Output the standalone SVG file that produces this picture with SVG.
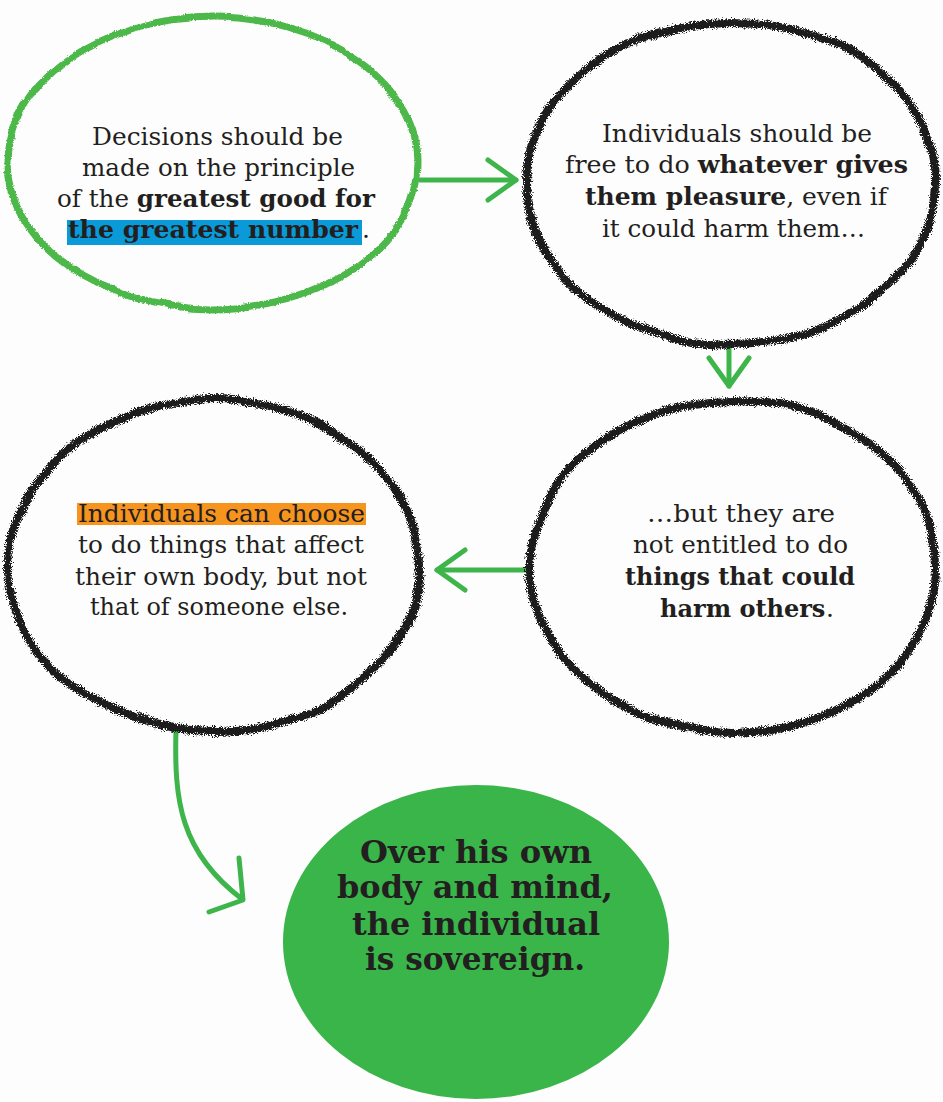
<svg xmlns="http://www.w3.org/2000/svg" width="943" height="1102" viewBox="0 0 943 1102">
<style>
.bg{fill:#fdfdfd}
.reg{font-family:"DejaVu Serif","Liberation Serif",serif;font-size:25px;fill:#231f20}
.b{font-weight:bold}
.big{font-family:"DejaVu Serif","Liberation Serif",serif;font-size:32px;font-weight:bold;fill:#231f20}
.crayon{fill:none;stroke:#1e1e1e;stroke-width:8}
.green-ring{fill:none;stroke:#4cb848;stroke-width:7}
.conn{fill:none;stroke:#3eb54a;stroke-width:5;stroke-linecap:round;stroke-linejoin:round}
</style>
<defs>
<filter id="rough" x="-10%" y="-10%" width="120%" height="120%">
<feTurbulence type="fractalNoise" baseFrequency="0.012" numOctaves="2" seed="4" result="w"/>
<feDisplacementMap in="SourceGraphic" in2="w" scale="8" xChannelSelector="R" yChannelSelector="G" result="d1"/>
<feTurbulence type="fractalNoise" baseFrequency="1.1" numOctaves="2" seed="7" result="n"/>
<feDisplacementMap in="d1" in2="n" scale="8" xChannelSelector="R" yChannelSelector="G"/>
</filter>
<filter id="soft" x="-10%" y="-10%" width="120%" height="120%">
<feTurbulence type="fractalNoise" baseFrequency="0.012" numOctaves="2" seed="9" result="w"/>
<feDisplacementMap in="SourceGraphic" in2="w" scale="8" xChannelSelector="R" yChannelSelector="G" result="d1"/>
<feTurbulence type="fractalNoise" baseFrequency="0.6" numOctaves="1" seed="2" result="n"/>
<feDisplacementMap in="d1" in2="n" scale="3" xChannelSelector="R" yChannelSelector="G"/>
</filter>
<marker id="head" markerUnits="userSpaceOnUse" markerWidth="44" markerHeight="50" viewBox="0 0 44 50" refX="38" refY="25" orient="auto">
<path d="M10,5 L38,25 L10,45" fill="none" stroke="#3eb54a" stroke-width="5" stroke-linecap="round" stroke-linejoin="round"/>
</marker>
</defs>
<rect class="bg" x="0" y="0" width="943" height="1102"/>

<g id="connectors">
<path class="conn" d="M420,180 L516,180" marker-end="url(#head)"/>
<path class="conn" d="M729,345 L729,386" marker-end="url(#head)"/>
<path class="conn" d="M528,570 L437,570" marker-end="url(#head)"/>
<path class="conn" d="M176,730 C174,800 180,852 242,899"/>
<path class="conn" d="M239,858 L243,900 L209,912"/>
</g>

<g id="node-greatest-good">
<ellipse class="green-ring" cx="213" cy="163" rx="205" ry="146" filter="url(#soft)"/>
<rect x="67" y="220" width="295" height="25" fill="#0a9ad7"/>
<text class="reg" x="92" y="145" textLength="251" lengthAdjust="spacingAndGlyphs">Decisions should be</text>
<text class="reg" x="82" y="176" textLength="273" lengthAdjust="spacingAndGlyphs">made on the principle</text>
<text class="reg" x="57" y="207" textLength="318" lengthAdjust="spacingAndGlyphs">of the <tspan class="b">greatest good for</tspan></text>
<text class="reg b" x="68" y="238" textLength="290" lengthAdjust="spacingAndGlyphs">the greatest number</text>
<text class="reg" x="362" y="238">.</text>
</g>

<g id="node-pleasure">
<ellipse class="crayon" cx="731" cy="183" rx="205" ry="161" filter="url(#rough)"/>
<text class="reg" x="602" y="142" textLength="270" lengthAdjust="spacingAndGlyphs">Individuals should be</text>
<text class="reg" x="565" y="173" textLength="343" lengthAdjust="spacingAndGlyphs">free to do <tspan class="b">whatever gives</tspan></text>
<text class="reg" x="585" y="205" textLength="302" lengthAdjust="spacingAndGlyphs"><tspan class="b">them pleasure</tspan>, even if</text>
<text class="reg" x="602" y="237" textLength="263" lengthAdjust="spacingAndGlyphs">it could harm them…</text>
</g>

<g id="node-harm-others">
<ellipse class="crayon" cx="734" cy="567" rx="203" ry="166" filter="url(#rough)"/>
<text class="reg" x="647" y="522" textLength="188" lengthAdjust="spacingAndGlyphs">…but they are</text>
<text class="reg" x="633" y="553" textLength="215" lengthAdjust="spacingAndGlyphs">not entitled to do</text>
<text class="reg b" x="625" y="585" textLength="230" lengthAdjust="spacingAndGlyphs">things that could</text>
<text class="reg b" x="660" y="617" style="font-size:24px">harm others</text>
<text class="reg" x="826" y="617">.</text>
</g>

<g id="node-own-body">
<ellipse class="crayon" cx="214" cy="566" rx="206" ry="166" filter="url(#rough)"/>
<rect x="77" y="503" width="289" height="22" fill="#f7941d"/>
<text class="reg" x="78" y="522" textLength="287" lengthAdjust="spacingAndGlyphs">Individuals can choose</text>
<text class="reg" x="78" y="553" textLength="286" lengthAdjust="spacingAndGlyphs">to do things that affect</text>
<text class="reg" x="75" y="585" textLength="292" lengthAdjust="spacingAndGlyphs">their own body, but not</text>
<text class="reg" x="90" y="615" textLength="258" lengthAdjust="spacingAndGlyphs">that of someone else.</text>
</g>

<g id="node-sovereign">
<ellipse cx="476" cy="942" rx="193" ry="157" fill="#39b54a"/>
<text class="big" x="360" y="863" textLength="232" lengthAdjust="spacingAndGlyphs">Over his own</text>
<text class="big" x="337" y="898" textLength="276" lengthAdjust="spacingAndGlyphs">body and mind,</text>
<text class="big" x="352" y="935" textLength="248" lengthAdjust="spacingAndGlyphs">the individual</text>
<text class="big" x="365" y="970" textLength="220" lengthAdjust="spacingAndGlyphs">is sovereign.</text>
</g>
</svg>
